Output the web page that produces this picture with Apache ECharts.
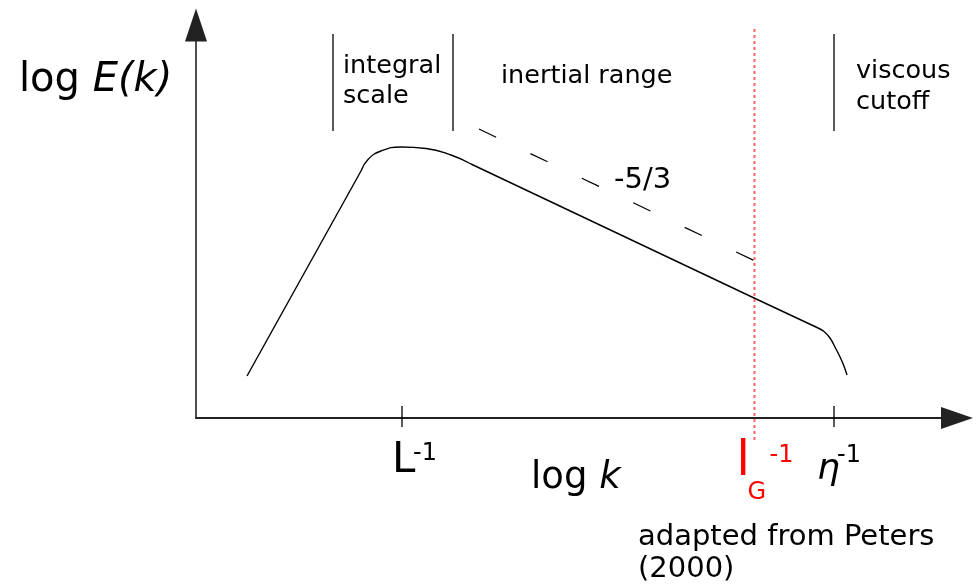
<!DOCTYPE html>
<html><head><meta charset="utf-8">
<script src="https://cdn.jsdelivr.net/npm/echarts@6/dist/echarts.min.js"></script>
<style>html,body{margin:0;padding:0;background:#fff}#c{width:979px;height:585px}</style>
</head><body><div id="c"></div>
<script>
// Schematic units: x = log k, y = log E(k) (arbitrary units)
const riseX = [0.51, 1.65];
const riseY = [0.42, 2.47];
const capX = [1.65, 1.72, 1.85, 2.05, 2.30, 2.55, 2.75];
const capY = [2.47, 2.585, 2.67, 2.71, 2.695, 2.63, 2.54];
const inertialX = [2.75, 5.57, 6.21];
const inertialY = [2.54, 1.205, 0.905];
const cutoffX = [6.21, 6.28, 6.34, 6.40, 6.45, 6.49, 6.51];
const cutoffY = [0.905, 0.865, 0.80, 0.69, 0.59, 0.49, 0.43];
const slopeX = [2.83, 5.59];
const slopeY = [2.89, 1.57];
const regionBarX = [1.37, 2.57, 6.38];
const regionBarY = [2.87, 3.84];
const gibsonX = 5.585;
const gibsonY = [-0.22, 3.91];
const tickX = [2.06, 6.38];
const tickY = [-0.09, 0.12];
const xRange = [0, 7.61];
const yRange = [0, 3.93];

const FONT = "'DejaVu Sans'";
const chart = echarts.init(document.getElementById('c'), null, {renderer: 'canvas'});

const seg = (xs, ys, style, smooth) => ({
  type: 'line', data: xs.map((x, i) => [x, ys[i]]), showSymbol: false, symbol: 'none',
  silent: true, animation: false, clip: false, smooth: smooth || false, lineStyle: style
});

const curveStyle = {color: '#000', width: 1.4};
const series = [];
series.push(seg(riseX, riseY, curveStyle));
series.push(seg(capX, capY, curveStyle, 0.5));
series.push(seg(inertialX, inertialY, curveStyle));
series.push(seg(cutoffX, cutoffY, curveStyle, 0.4));
series.push(seg(slopeX, slopeY, {color: '#000', width: 1.2, type: [19, 38]}));
regionBarX.forEach(x => series.push(seg([x, x], regionBarY, {color: '#000', width: 1.3})));
tickX.forEach(x => series.push(seg([x, x], tickY, {color: '#000', width: 1.3})));
series.push(seg([gibsonX, gibsonX], gibsonY, {color: 'rgba(255,60,60,0.8)', width: 2, type: [3, 3]}));

const axisCommon = {
  type: 'value', axisTick: {show: false}, axisLabel: {show: false}, splitLine: {show: false}
};

chart.setOption({
  animation: false,
  backgroundColor: '#fff',
  grid: {left: 196, right: 22, top: 25, bottom: 167, containLabel: false},
  xAxis: Object.assign({}, axisCommon, {min: xRange[0], max: xRange[1],
    axisLine: {show: true, onZero: false, symbol: ['none', 'triangle'], symbolSize: [22, 32],
      lineStyle: {color: '#222', width: 1.8}}}),
  yAxis: Object.assign({}, axisCommon, {min: yRange[0], max: yRange[1],
    axisLine: {show: true, onZero: false, symbol: ['none', 'triangle'], symbolSize: [22, 33],
      lineStyle: {color: '#222', width: 1.6}}}),
  series: series
});

const px = v => chart.convertToPixel({gridIndex: 0}, [v, 0])[0];
const txt = (x, y, text, size, opts) => ({
  type: 'text', x: x, y: y, silent: true,
  style: Object.assign({text: text, fontFamily: FONT, fontSize: size, fill: '#000',
    textAlign: 'left', textVerticalAlign: 'middle'}, opts || {})
});

const g = [];
// y-axis title
g.push({type: 'text', x: 19, y: 81, silent: true, style: {
  text: '{a|log }{b|E(k)}', textVerticalAlign: 'middle',
  rich: {a: {fontFamily: FONT, fontSize: 40, fill: '#000'},
         b: {fontFamily: FONT, fontSize: 40, fontStyle: 'italic', fill: '#000'}}}});
// x-axis title
g.push({type: 'text', x: 531, y: 478, silent: true, style: {
  text: '{a|log }{b|k}', textVerticalAlign: 'middle',
  rich: {a: {fontFamily: FONT, fontSize: 37, fill: '#000'},
         b: {fontFamily: FONT, fontSize: 37, fontStyle: 'italic', fill: '#000'}}}});
// region labels
g.push(txt(343, 66, 'integral', 25.5));
g.push(txt(343, 96, 'scale', 25.5));
g.push(txt(501, 76, 'inertial range', 25.5));
g.push(txt(856, 71, 'viscous', 25.5));
g.push(txt(856, 102, 'cutoff', 25.5));
g.push(txt(614, 180, '-5/3', 29));
g.push(txt(638, 537, 'adapted from Peters', 29));
g.push(txt(638, 569, '(2000)', 29));
// tick labels
const xL = px(tickX[0]), xEta = px(tickX[1]), xG = px(gibsonX);
g.push(txt(xL - 10, 461, 'L', 42));
g.push(txt(xL + 11, 454, '-1', 24));
g.push(txt(xEta - 17, 470, 'η', 36, {fontStyle: 'italic'}));
g.push(txt(xEta + 3, 456, '-1', 24));
g.push(txt(xG - 18, 463, 'l', 48, {fill: '#ff0000'}));
g.push(txt(xG - 7, 493, 'G', 24, {fill: '#ff0000'}));
g.push(txt(xG + 15, 456, '-1', 24, {fill: '#ff0000'}));

chart.setOption({graphic: g});
</script></body></html>
